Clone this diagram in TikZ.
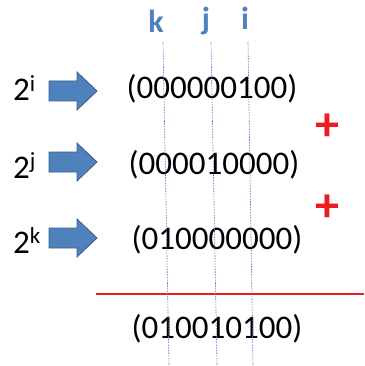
\documentclass[tikz,border=0pt]{standalone}
\usepackage{fontspec}
\setmainfont{Carlito}
\definecolor{arrowblue}{RGB}{79,129,189}
\definecolor{arrowline}{RGB}{56,93,138}
\definecolor{guideblue}{RGB}{68,114,196}
\definecolor{sumred}{RGB}{237,28,36}
\tikzset{
  bits/.style={inner sep=0pt, font=\fontsize{33}{40}\selectfont},
  power/.style={inner sep=0pt, anchor=base west, font=\fontsize{33}{40}\selectfont},
  bitlabel/.style={inner sep=0pt, anchor=base, text=arrowblue, font=\fontsize{32}{38}\selectfont\bfseries},
  plussign/.style={inner sep=0pt, text=sumred, font=\fontsize{48}{48}\selectfont\bfseries},
  guide/.style={guideblue, line width=0.6pt, dash pattern=on 1.5pt off 1.2pt},
  blockarrow/.style={fill=arrowblue, draw=arrowline, line width=0.8pt, line join=miter}
}
\begin{document}
\begin{tikzpicture}[x=1pt, y=-1pt]
    \useasboundingbox (0,0) rectangle (364,366);

    % Bit positions
    \node[bitlabel] (k) at (156,33) {k};
    \node[bitlabel] (j) at (206,30) {j};
    \node[bitlabel] (i) at (245,30) {i};

    \coordinate (ktop) at (163,42);
    \coordinate (kbot) at (169,366);
    \coordinate (jtop) at (211,42);
    \coordinate (jbot) at (217,366);
    \coordinate (itop) at (248,42);
    \coordinate (ibot) at (253,366);

    % Powers of two and their arrows
    \foreach \y/\b/\e in {91/101/i, 162/178/j, 238/253/k} {
        \node[power] (p\e) at (13,\b) {2\textsuperscript{\e}};
        \draw[blockarrow] (49,\y-10) -- (77,\y-10) -- (77,\y-19) -- (97,\y)
            -- (77,\y+19) -- (77,\y+10) -- (49,\y+10) -- cycle;
    }

    % Binary words
    \node[bits] (ri) at (212,89) {(000000100)};
    \node[bits] (rj) at (214,165) {(000010000)};
    \node[bits] (rk) at (217,240) {(010000000)};
    \node[bits] (sum) at (217,329) {(010010100)};

    \node[plussign] (plus1) at (327,127) {+};
    \node[plussign] (plus2) at (327,208) {+};

    % Sum line
    \coordinate (lineL) at (96,294);
    \coordinate (lineR) at (364,294);
    \draw[sumred, line width=2.8pt] (lineL) -- (lineR);

    % Dotted guides
    \draw[guide] (ktop) -- (kbot);
    \draw[guide] (jtop) -- (jbot);
    \draw[guide] (itop) -- (ibot);
\end{tikzpicture}
\end{document}
